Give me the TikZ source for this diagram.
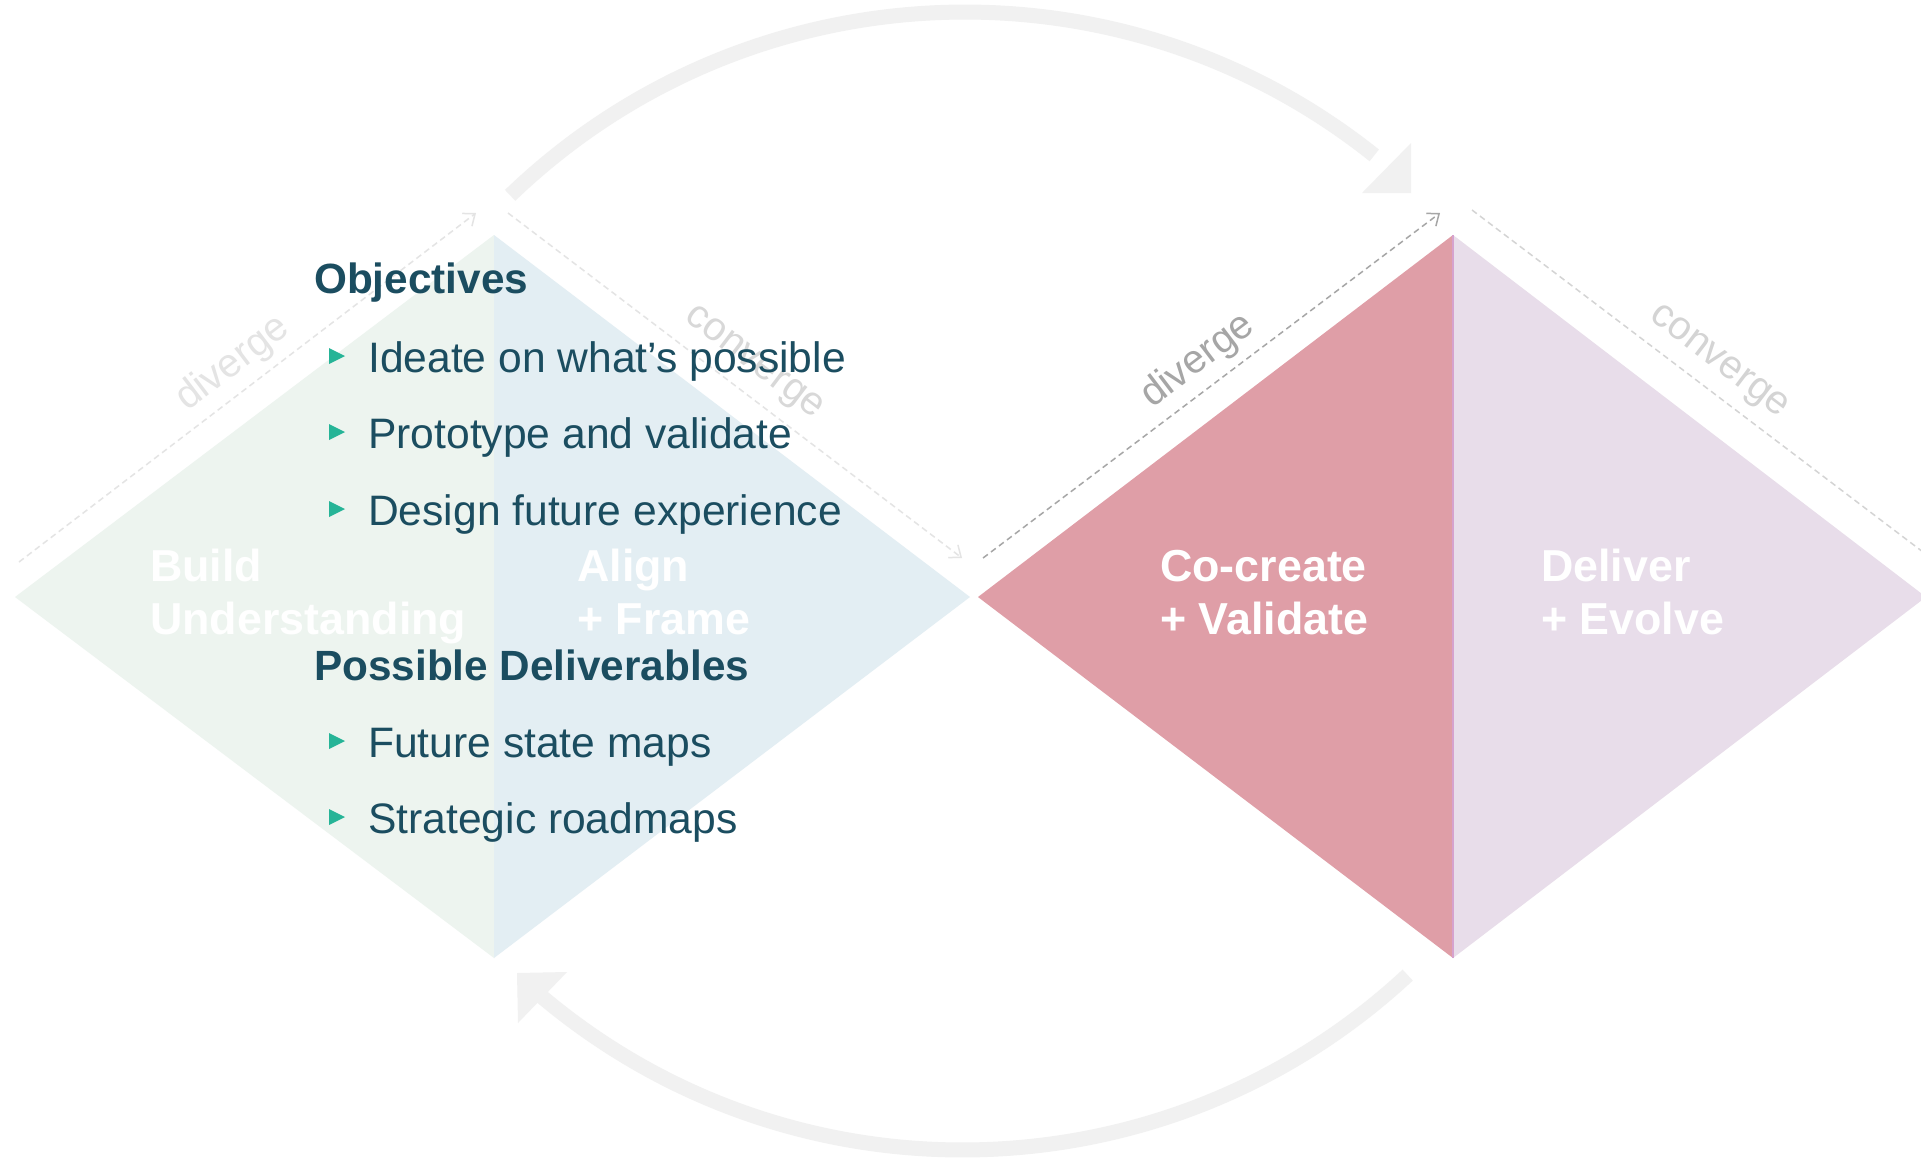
\documentclass[tikz,border=0pt]{standalone}
\usepackage{fontspec}
\setmainfont{Liberation Sans}
\usetikzlibrary{arrows.meta}
\definecolor{txtdark}{HTML}{1B4D60}
\definecolor{bulletc}{HTML}{26B497}
\definecolor{greenL}{HTML}{EDF4EF}
\definecolor{blueL}{HTML}{E3EEF3}
\definecolor{pinkM}{HTML}{DF9EA7}
\definecolor{lavL}{HTML}{E8DDEA}
\definecolor{divline}{HTML}{D6A2CE}
\definecolor{arcgray}{HTML}{F1F1F1}
\definecolor{guidefaint}{HTML}{E4E4E4}
\definecolor{guidemid}{HTML}{D4D4D4}
\definecolor{guidedark}{HTML}{A6A6A6}
\tikzset{
  bodytext/.style={anchor=base west, inner sep=0pt, text=txtdark, font=\fontsize{42.6}{50}\selectfont},
  headtext/.style={anchor=base west, inner sep=0pt, text=txtdark, font=\fontsize{42.3}{50}\selectfont\bfseries},
  phasetext/.style={anchor=base west, inner sep=0pt, text=white, font=\fontsize{44.8}{53}\selectfont\bfseries},
  guide/.style={dash pattern=on 6pt off 4pt, line width=1.5pt, -{Straight Barb[length=10pt,width=16pt]}},
  guidelabel/.style={inner sep=0pt, font=\fontsize{40}{48}\selectfont},
  cyclearc/.style={draw=arcgray, line width=15pt},
}
\begin{document}
\begin{tikzpicture}[x=1pt,y=-1pt]
\fill[white] (0,0) rectangle (1921,1157);
\useasboundingbox (0,0) rectangle (1921,1157);
\clip (0,0) rectangle (1921,1157);

% diamonds
\coordinate (L1) at (15,597);
\coordinate (T1) at (494,235);
\coordinate (B1) at (494,958);
\coordinate (R1) at (970,597);
\coordinate (L2) at (978,597);
\coordinate (T2) at (1453,235);
\coordinate (B2) at (1453,958);
\coordinate (R2) at (1926,597);
\fill[greenL] (L1) -- (T1) -- (B1) -- cycle;
\fill[blueL] (T1) -- (R1) -- (B1) -- cycle;
\fill[pinkM] (L2) -- (T2) -- (B2) -- cycle;
\fill[lavL] (T2) -- (R2) -- (B2) -- cycle;
\draw[divline, line width=2pt] (T2) -- (B2);

% cycle arcs
\coordinate (topc) at (965,668);
\coordinate (botc) at (962.5,496);
\draw[cyclearc] (topc) ++(-133.9:656) arc[start angle=-133.9, end angle=-51.4, radius=656];
\fill[arcgray] (1411,143) -- (1411,193) -- (1362,193) -- cycle;
\draw[cyclearc] (botc) ++(47.1:654) arc[start angle=47.1, end angle=131.5, radius=654];
\fill[arcgray] (517,973) -- (567,972) -- (518,1023) -- cycle;

% guide arrows
\coordinate (dv1s) at (19,562);
\coordinate (dv1e) at (476,213);
\coordinate (cv1s) at (508,213);
\coordinate (cv1e) at (962,558);
\coordinate (dv2s) at (983,558);
\coordinate (dv2e) at (1440,213);
\coordinate (cv2s) at (1472,210);
\coordinate (cv2e) at (1952,574);
\draw[guide, draw=guidefaint] (dv1s) -- (dv1e);
\draw[guide, draw=guidefaint] (cv1s) -- (cv1e);
\draw[guide, draw=guidedark] (dv2s) -- (dv2e);
\draw[guide, draw=guidemid] (cv2s) -- (cv2e);

\node[guidelabel, text=guidefaint, rotate=37.3] (lbdv1) at (233,364) {diverge};
\node[guidelabel, text=guidefaint!95!black, rotate=-37.2] (lbcv1) at (753,364) {converge};
\node[guidelabel, text=guidedark, rotate=37.2] (lbdv2) at (1198,361) {diverge};
\node[guidelabel, text=guidemid, rotate=-37.2] (lbcv2) at (1718,363) {converge};

% phase labels
\node[phasetext] (ph1a) at (150,581) {Build};
\node[phasetext] (ph1b) at (150,634) {Understanding};
\node[phasetext] (ph2a) at (577,581) {Align};
\node[phasetext] (ph2b) at (577,634) {+ Frame};
\node[phasetext] (ph3a) at (1160,581) {Co-create};
\node[phasetext] (ph3b) at (1160,634) {+ Validate};
\node[phasetext] (ph4a) at (1541,581) {Deliver};
\node[phasetext] (ph4b) at (1541,634) {+ Evolve};

% text block
\node[headtext] (obj) at (314,293) {Objectives};
\node[bodytext] (o1) at (368,372) {Ideate on what’s possible};
\node[bodytext] (o2) at (368,448) {Prototype and validate};
\node[bodytext] (o3) at (368,525) {Design future experience};
\node[headtext] (del) at (314,680) {Possible Deliverables};
\node[bodytext] (d1) at (368,757) {Future state maps};
\node[bodytext] (d2) at (368,833) {Strategic roadmaps};
\foreach \b in {372,448,525,757,833}{
  \fill[bulletc] (329,{\b-24}) -- (345,{\b-16}) -- (329,{\b-8}) -- cycle;
}
\end{tikzpicture}
\end{document}
